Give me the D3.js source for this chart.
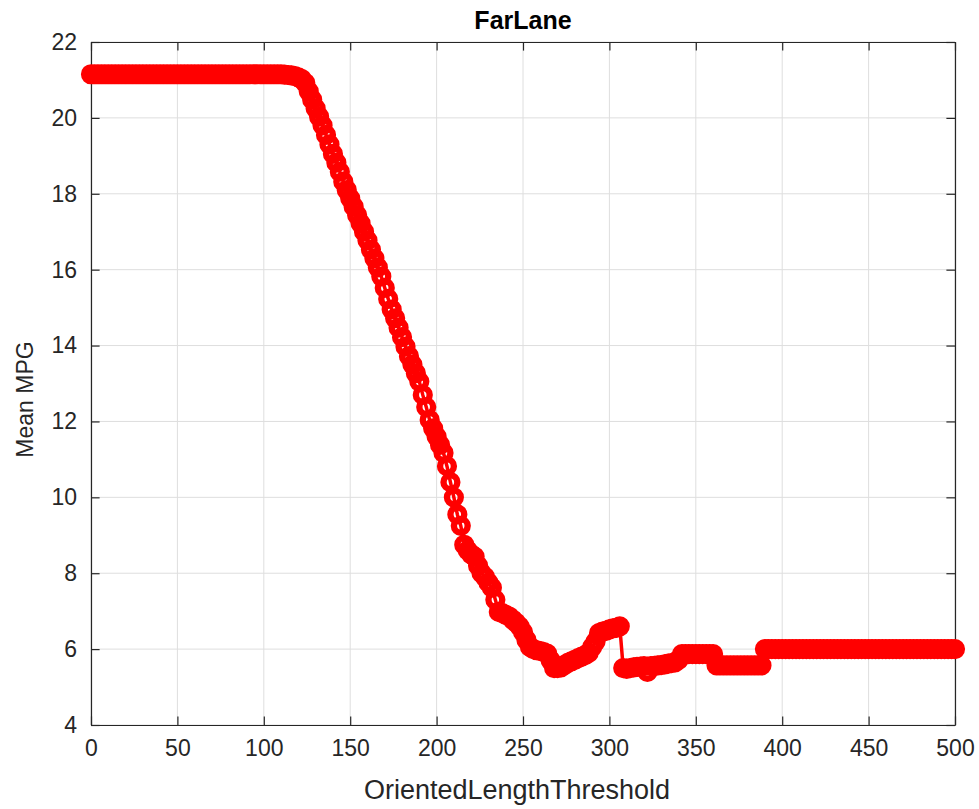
<!DOCTYPE html>
<html>
<head>
<meta charset="utf-8">
<script src="https://cdn.jsdelivr.net/npm/d3@7"></script>
<style>
  html, body { margin: 0; padding: 0; background: #fff; }
  svg { display: block; font-family: "Liberation Sans", Arial, sans-serif; }
</style>
</head>
<body>
<svg id="chart" width="979" height="809"></svg>
<script>
// Threshold values (x) sampled every 2 units
const thresholds = [
  0,2,4,6,8,10,12,14,16,18,20,22,24,26,28,30,32,34,36,38,40,42,44,46,48,
  50,52,54,56,58,60,62,64,66,68,70,72,74,76,78,80,82,84,86,88,90,92,94,96,98,
  100,102,104,106,108,110,112,114,116,118,120,122,124,126,128,130,132,134,136,138,
  140,142,144,146,148,150,152,154,156,158,160,162,164,166,168,170,172,174,176,178,
  180,182,184,186,188,190,192,194,196,198,200,202,204,206,208,210,212,214,216,218,
  220,222,224,226,228,230,232,234,236,238,240,242,244,246,248,250,252,254,256,258,
  260,262,264,266,268,270,272,274,276,278,280,282,284,286,288,290,292,294,296,298,
  300,302,304,306,308,310,312,314,316,318,320,322,324,326,328,330,332,334,336,338,
  340,342,344,346,348,350,352,354,356,358,360,362,364,366,368,370,372,374,376,378,
  380,382,384,386,388,390,392,394,396,398,400,402,404,406,408,410,412,414,416,418,
  420,422,424,426,428,430,432,434,436,438,440,442,444,446,448,450,452,454,456,458,
  460,462,464,466,468,470,472,474,476,478,480,482,484,486,488,490,492,494,496,498,
  500
];

// Mean MPG at each threshold
const meanMPG = [
  21.15,21.15,21.15,21.15,21.15,21.15,21.15,21.15,21.15,21.15,21.15,21.15,21.15,21.15,21.15,
  21.15,21.15,21.15,21.15,21.15,21.15,21.15,21.15,21.15,21.15,
  21.15,21.15,21.15,21.15,21.15,21.15,21.15,21.15,21.15,21.15,21.15,21.15,21.15,21.15,21.15,
  21.15,21.15,21.15,21.15,21.15,21.15,21.15,21.15,21.15,21.15,
  21.15,21.15,21.15,21.15,21.15,21.15,21.14,21.13,21.12,21.10,21.07,21.02,20.92,20.70,20.48,
  20.25,20.03,19.80,19.55,19.30,
  19.05,18.82,18.58,18.32,18.10,17.88,17.66,17.44,17.22,17.00,16.77,16.53,16.30,16.06,15.82,
  15.52,15.23,14.95,14.72,14.47,
  14.22,13.97,13.72,13.50,13.27,13.05,12.70,12.38,12.04,11.82,11.60,11.38,11.17,10.82,10.40,
  10.00,9.55,9.25,8.75,8.60,
  8.50,8.44,8.20,8.00,7.90,7.75,7.62,7.30,6.98,6.95,6.90,6.86,6.78,6.70,6.60,
  6.45,6.24,6.06,6.00,5.97,
  5.95,5.92,5.88,5.70,5.50,5.50,5.52,5.58,5.64,5.68,5.72,5.76,5.80,5.84,5.90,
  6.05,6.20,6.42,6.46,6.48,
  6.52,6.55,6.56,6.60,5.50,5.48,5.50,5.52,5.53,5.54,5.55,5.40,5.55,5.56,5.57,
  5.58,5.60,5.62,5.63,5.65,
  5.72,5.87,5.87,5.87,5.87,5.87,5.87,5.87,5.87,5.87,5.87,5.57,5.57,5.57,5.57,
  5.57,5.57,5.57,5.57,5.57,
  5.57,5.57,5.57,5.57,5.57,6.00,6.00,6.00,6.00,6.00,6.00,6.00,6.00,6.00,6.00,
  6.00,6.00,6.00,6.00,6.00,
  6.00,6.00,6.00,6.00,6.00,6.00,6.00,6.00,6.00,6.00,6.00,6.00,6.00,6.00,6.00,
  6.00,6.00,6.00,6.00,6.00,
  6.00,6.00,6.00,6.00,6.00,6.00,6.00,6.00,6.00,6.00,6.00,6.00,6.00,6.00,6.00,
  6.00,6.00,6.00,6.00,6.00,
  6.00
];

const xTicks = [0, 50, 100, 150, 200, 250, 300, 350, 400, 450, 500];
const yTicks = [4, 6, 8, 10, 12, 14, 16, 18, 20, 22];

const titleText = "FarLane";
const xLabelText = "OrientedLengthThreshold";
const yLabelText = "Mean MPG";

const W = 979, H = 809;
const margin = { left: 91, right: 24, top: 42, bottom: 84 };
const plotW = W - margin.left - margin.right;
const plotH = H - margin.top - margin.bottom;
const tickLen = 8.6;
const axisColor = "#262626";
const gridColor = "#dedede";

const svg = d3.select("#chart");
const g = svg.append("g").attr("transform", `translate(${margin.left},${margin.top})`);

const x = d3.scaleLinear().domain([0, 500]).range([0, plotW]);
const y = d3.scaleLinear().domain([4, 22]).range([plotH, 0]);

// grid lines
g.append("g").attr("class", "grid")
  .selectAll("line.gx").data(xTicks).join("line")
  .attr("x1", d => x(d)).attr("x2", d => x(d))
  .attr("y1", 0).attr("y2", plotH)
  .attr("stroke", gridColor).attr("stroke-width", 1);
g.append("g").attr("class", "grid")
  .selectAll("line.gy").data(yTicks).join("line")
  .attr("x1", 0).attr("x2", plotW)
  .attr("y1", d => y(d)).attr("y2", d => y(d))
  .attr("stroke", gridColor).attr("stroke-width", 1);

function styleAxis(sel, showLabels) {
  sel.select(".domain").attr("stroke", axisColor).attr("stroke-width", 1.2);
  sel.selectAll(".tick line").attr("stroke", axisColor).attr("stroke-width", 1.2);
  sel.selectAll(".tick text")
    .attr("fill", axisColor)
    .style("font-size", "23px")
    .style("font-family", "'Liberation Sans', Arial, sans-serif")
    .style("display", showLabels ? null : "none");
}

// bottom and left axes with labels; inward ticks
g.append("g").attr("transform", `translate(0,${plotH})`)
  .call(d3.axisBottom(x).tickValues(xTicks).tickSizeInner(-tickLen).tickSizeOuter(0).tickPadding(15))
  .call(s => styleAxis(s, true));
g.append("g")
  .call(d3.axisLeft(y).tickValues(yTicks).tickSizeInner(-tickLen).tickSizeOuter(0).tickPadding(14))
  .call(s => styleAxis(s, true));
// mirrored top and right axes (box)
g.append("g")
  .call(d3.axisTop(x).tickValues(xTicks).tickSizeInner(-tickLen).tickSizeOuter(0))
  .call(s => styleAxis(s, false));
g.append("g").attr("transform", `translate(${plotW},0)`)
  .call(d3.axisRight(y).tickValues(yTicks).tickSizeInner(-tickLen).tickSizeOuter(0))
  .call(s => styleAxis(s, false));

// data: line with circle markers
const pts = thresholds.map((t, i) => ({ t, v: meanMPG[i] }));
const red = "#ff0000";
g.append("path")
  .datum(pts)
  .attr("fill", "none")
  .attr("stroke", red)
  .attr("stroke-width", 3.5)
  .attr("stroke-linejoin", "round")
  .attr("d", d3.line().x(d => x(d.t)).y(d => y(d.v)));
g.append("g").selectAll("circle").data(pts).join("circle")
  .attr("cx", d => x(d.t))
  .attr("cy", d => y(d.v))
  .attr("r", 6.9)
  .attr("fill", "none")
  .attr("stroke", red)
  .attr("stroke-width", 6.4);

// title and axis labels
svg.append("text")
  .attr("x", margin.left + plotW / 2).attr("y", 29)
  .attr("text-anchor", "middle")
  .attr("fill", "#000")
  .style("font-size", "25px").style("font-weight", "bold")
  .text(titleText);
svg.append("text")
  .attr("x", margin.left + plotW / 2 - 6).attr("y", 799)
  .attr("text-anchor", "middle")
  .attr("fill", axisColor)
  .style("font-size", "27px")
  .text(xLabelText);
svg.append("text")
  .attr("transform", `translate(33,${margin.top + plotH / 2 + 16}) rotate(-90)`)
  .attr("text-anchor", "middle")
  .attr("fill", axisColor)
  .style("font-size", "23px")
  .text(yLabelText);
</script>
</body>
</html>
